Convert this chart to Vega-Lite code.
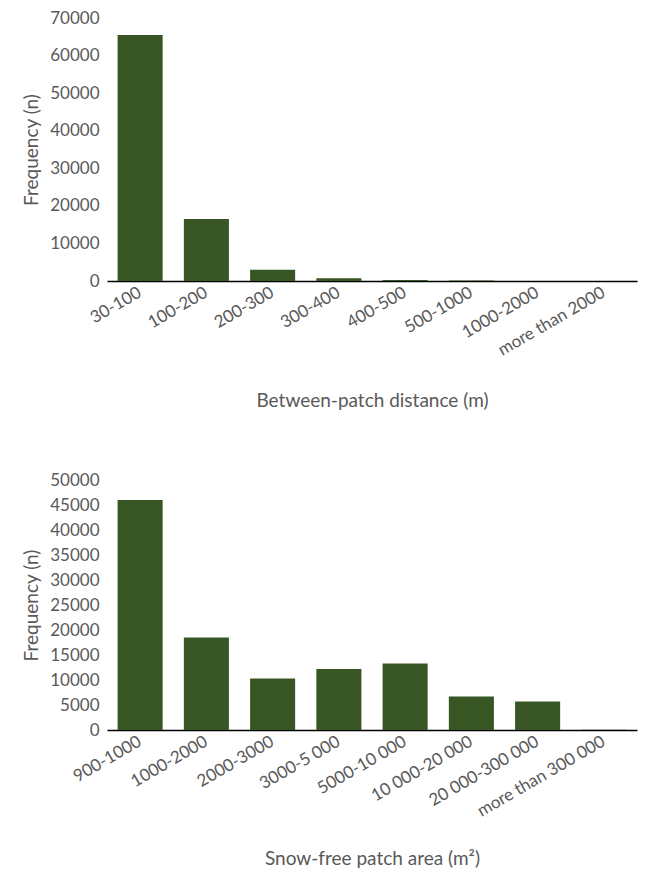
{
"$schema":"https://vega.github.io/schema/vega-lite/v6.json",
"padding":{"left":22,"top":9,"right":5,"bottom":5},
"config":{"font":"Lato","view":{"stroke":null},"axis":{"labelColor":"#595959","titleColor":"#595959","labelFontSize":17,"titleFontSize":19,"titleFontWeight":"normal","grid":false,"ticks":false},"axisY":{"domain":false,"labelPadding":8,"format":"d","titlePadding":8},"axisX":{"domainColor":"#000","domainWidth":1.5,"labelAngle":-30,"labelAlign":"right","labelBaseline":"middle","labelPadding":10}},
"spacing":60,
"vconcat":[
{"width":530,"height":263,
"data":{"values":[{"c":"30-100","n":65500},{"c":"100-200","n":16500},{"c":"200-300","n":3000},{"c":"300-400","n":700},{"c":"400-500","n":250},{"c":"500-1000","n":150},{"c":"1000-2000","n":0},{"c":"more than 2000","n":0}]},
"mark":{"type":"bar","color":"#375623"},
"encoding":{"x":{"field":"c","type":"nominal","sort":null,"title":"Between-patch distance (m)","scale":{"paddingInner":0.32,"paddingOuter":0.16},"axis":{"titlePadding":34}},
"y":{"field":"n","type":"quantitative","title":"Frequency (n)","scale":{"domain":[0,70000]},"axis":{"values":[0,10000,20000,30000,40000,50000,60000,70000]}}}},
{"width":530,"height":250,
"data":{"values":[{"c":"900-1000","n":46000},{"c":"1000-2000","n":18500},{"c":"2000-3000","n":10300},{"c":"3000-5 000","n":12200},{"c":"5000-10 000","n":13300},{"c":"10 000-20 000","n":6700},{"c":"20 000-300 000","n":5700},{"c":"more than 300 000","n":50}]},
"mark":{"type":"bar","color":"#375623"},
"encoding":{"x":{"field":"c","type":"nominal","sort":null,"title":"Snow-free patch area (m²)","scale":{"paddingInner":0.32,"paddingOuter":0.16},"axis":{"titlePadding":30}},
"y":{"field":"n","type":"quantitative","title":"Frequency (n)","scale":{"domain":[0,50000]},"axis":{"values":[0,5000,10000,15000,20000,25000,30000,35000,40000,45000,50000]}}}}
]}
